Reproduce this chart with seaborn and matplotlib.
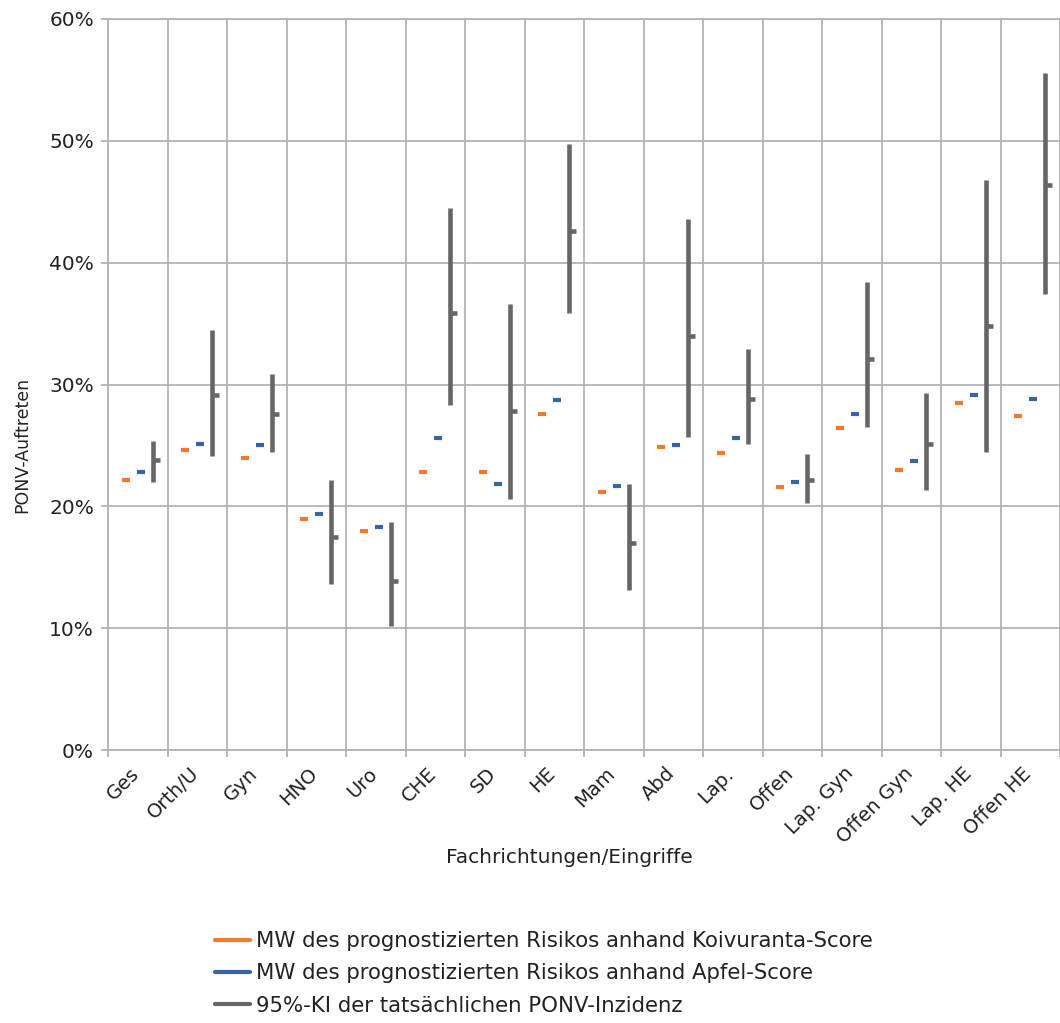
import numpy as np
import pandas as pd
import seaborn as sns
import matplotlib.pyplot as plt
from matplotlib.lines import Line2D
from matplotlib.ticker import PercentFormatter
from matplotlib.transforms import ScaledTranslation

# Daten (Werte in %)
categories = ['Ges', 'Orth/U', 'Gyn', 'HNO', 'Uro', 'CHE', 'SD', 'HE', 'Mam', 'Abd',
              'Lap.', 'Offen', 'Lap. Gyn', 'Offen Gyn', 'Lap. HE', 'Offen HE']
koivuranta = [22.2, 24.6, 24.0, 19.0, 18.0, 22.8, 22.8, 27.6, 21.2, 24.9,
              24.4, 21.6, 26.4, 23.0, 28.5, 27.4]
apfel = [22.8, 25.1, 25.0, 19.4, 18.3, 25.6, 21.8, 28.7, 21.7, 25.0,
         25.6, 22.0, 27.6, 23.7, 29.1, 28.8]
ki_low = [22.0, 24.1, 24.5, 13.6, 10.2, 28.3, 20.6, 35.9, 13.1, 25.7,
          25.1, 20.3, 26.5, 21.3, 24.5, 37.4]
ki_high = [25.4, 34.5, 30.9, 22.2, 18.7, 44.5, 36.6, 49.7, 21.8, 43.6,
           32.9, 24.3, 38.4, 29.3, 46.8, 55.6]
ki_mean = [23.8, 29.1, 27.6, 17.5, 13.9, 35.9, 27.8, 42.6, 17.0, 34.0,
           28.8, 22.2, 32.1, 25.1, 34.8, 46.4]

labels = ['MW des prognostizierten Risikos anhand Koivuranta-Score',
          'MW des prognostizierten Risikos anhand Apfel-Score',
          '95%-KI der tatsächlichen PONV-Inzidenz']

orange = '#f5782a'
blue = '#3465a4'
gray = '#666666'
grid_color = '#b3b3b3'

df = pd.DataFrame({'cat': categories, 'koivuranta': koivuranta, 'apfel': apfel,
                   'low': ki_low, 'high': ki_high, 'mean': ki_mean})
df['pos'] = np.arange(len(df))

sns.set_theme(style='whitegrid')
plt.rcParams['font.family'] = ['DejaVu Sans']

fig = plt.figure(figsize=(10.6, 10.23), dpi=100)
# Achse reicht rechts bis an den Bildrand (letzte Kategorie angeschnitten)
ax = fig.add_axes([108 / 1060, 1 - 750 / 1023, 952 / 1060, 731 / 1023])

# Mittelwerte der Scores als kurze Striche
sns.scatterplot(x=df['pos'] - 0.2, y=df['koivuranta'], marker='_', s=36, linewidth=3,
                color=orange, ax=ax, legend=False, zorder=3)
sns.scatterplot(x=df['pos'] + 0.05, y=df['apfel'], marker='_', s=36, linewidth=3,
                color=blue, ax=ax, legend=False, zorder=3)

# 95%-KI als senkrechter Balken, Inzidenz als kleiner Strich rechts
ax.vlines(df['pos'] + 0.25, df['low'], df['high'], color=gray, lw=3.3, zorder=3)
ax.hlines(df['mean'], df['pos'] + 0.25, df['pos'] + 0.37, color=gray, lw=3.3, zorder=3)

ax.set_xlim(-0.5, -0.5 + 952 / 60.2)
ax.set_ylim(0, 60)
ax.set_yticks(np.arange(0, 61, 10))
ax.yaxis.set_major_formatter(PercentFormatter(decimals=0))

ax.set_xticks(df['pos'], categories, rotation=45, ha='right', rotation_mode='anchor')
ax.set_xticks(np.arange(-0.5, len(df)), minor=True)
ax.grid(False, axis='x', which='major')
ax.grid(True, axis='x', which='minor', color=grid_color, lw=1.3)
ax.grid(True, axis='y', which='major', color=grid_color, lw=1.3)
ax.set_axisbelow(True)

ax.tick_params(axis='x', which='major', length=0, pad=10, labelsize=14, labelcolor='#222222')
ax.tick_params(axis='x', which='minor', bottom=True, length=5, width=1.3, color=grid_color)
ax.tick_params(axis='y', left=True, length=5, width=1.3, color=grid_color, pad=5,
               labelsize=14.5, labelcolor='#222222')
# Beschriftungen etwas nach links, damit das Textende auf der Kategoriemitte liegt
shift = ScaledTranslation(-6 / 72, 0, fig.dpi_scale_trans)
for lab in ax.get_xticklabels():
    lab.set_transform(lab.get_transform() + shift)

ax.spines['right'].set_visible(False)
for side in ['left', 'bottom', 'top']:
    ax.spines[side].set_color(grid_color)
    ax.spines[side].set_linewidth(1.3)

ax.set_xlabel('Fachrichtungen/Eingriffe', fontsize=14.5, color='#222222')
ax.xaxis.set_label_coords(0.485, -0.134)
ax.set_ylabel('PONV-Auftreten', fontsize=12.5, color='#222222')
ax.yaxis.set_label_coords(-0.081, 0.417)

handles = [Line2D([0], [0], color=c, lw=3) for c in [orange, blue, gray]]
fig.legend(handles, labels, loc='upper left', bbox_to_anchor=(215 / 1060, 1 - 931 / 1023),
           frameon=False, fontsize=15.3, handlelength=1.65, handletextpad=0.3,
           labelspacing=0.58, borderaxespad=0, borderpad=0, labelcolor='#222222')

fig.savefig('out.png', dpi=100)
